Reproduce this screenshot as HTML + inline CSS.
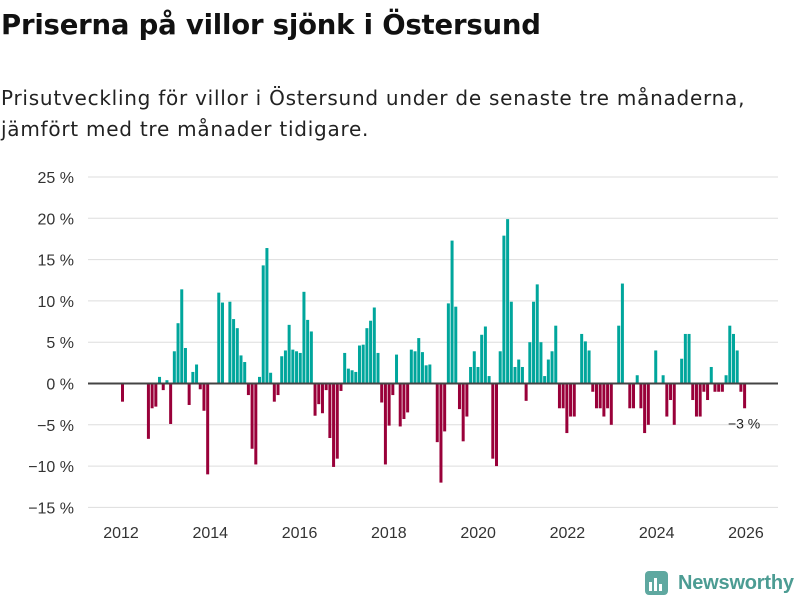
<!DOCTYPE html>
<html><head><meta charset="utf-8">
<style>
body{margin:0;width:800px;height:600px;background:#fff;font-family:"Liberation Sans","DejaVu Sans",sans-serif;overflow:hidden;position:relative}
#title{position:absolute;left:1px;top:9px;font-family:"DejaVu Sans",sans-serif;font-size:27.5px;font-weight:bold;color:#111;letter-spacing:-0.2px;white-space:nowrap}
#sub{position:absolute;left:1px;top:83px;font-family:"DejaVu Sans",sans-serif;font-size:20px;line-height:31px;color:#222;letter-spacing:0.75px;white-space:nowrap}
svg{position:absolute;left:0;top:0}
</style></head><body>
<div id="title">Priserna på villor sjönk i Östersund</div>
<div id="sub">Prisutveckling för villor i Östersund under de senaste tre månaderna,<br>jämfört med tre månader tidigare.</div>
<svg width="800" height="600" id="chart"></svg>
<script>
const values = [-2.2,0,0,0,0,0,0,-6.7,-3.0,-2.8,0.8,-0.8,0.4,-4.9,3.9,7.3,11.4,4.3,-2.6,1.4,2.3,-0.7,-3.3,-11.0,0,0,11.0,9.8,0,9.9,7.8,6.7,3.4,2.6,-1.4,-7.9,-9.8,0.8,14.3,16.4,1.3,-2.2,-1.4,3.3,4.0,7.1,4.1,3.9,3.7,11.1,7.7,6.3,-3.9,-2.5,-3.6,-0.8,-6.6,-10.1,-9.1,-0.9,3.7,1.8,1.6,1.4,4.6,4.7,6.7,7.6,9.2,3.7,-2.3,-9.8,-5.1,-1.4,3.5,-5.2,-4.3,-3.5,4.1,3.9,5.5,3.8,2.2,2.3,0,-7.1,-12.0,-5.8,9.7,17.3,9.3,-3.1,-7.0,-4.0,2.0,3.9,2.0,5.9,6.9,0.9,-9.1,-10.0,3.9,17.9,19.9,9.9,2.0,2.9,2.0,-2.1,5.0,9.9,12.0,5.0,0.9,2.9,3.9,7.0,-3.0,-3.0,-6.0,-4.0,-4.0,0,6.0,5.1,4.0,-1.0,-3.0,-3.0,-4.0,-3.0,-5.0,0,7.0,12.1,0,-3.0,-3.0,1.0,-3.0,-6.0,-5.0,0,4.0,0,1.0,-4.0,-2.0,-5.0,0,3.0,6.0,6.0,-2.0,-4.0,-4.0,-1.0,-2.0,2.0,-1.0,-1.0,-1.0,1.0,7.0,6.0,4.0,-1.0,-3.0];
const startYear = 2012;
const yTicks = [25,20,15,10,5,0,-5,-10,-15];
const xTicks = [2012,2014,2016,2018,2020,2022,2024,2026];
const lastLabel = "−3 %";

const svg = document.getElementById('chart');
const NS = 'http://www.w3.org/2000/svg';
const y = v => 383.5 - v * 8.26;
const xYear = yr => 121 + (yr - 2012) * 44.64;
const xBar = i => 121 + i * 3.703;
function mk(tag, attrs){const e=document.createElementNS(NS,tag);for(const k in attrs)e.setAttribute(k,attrs[k]);svg.appendChild(e);return e;}
yTicks.forEach(t=>{
  if(t!==0){const g=mk('line',{x1:88,x2:778,y1:y(t),y2:y(t),stroke:'#dddddd','stroke-width':1});
  
  }
  const l=mk('text',{x:74,y:y(t)+6,'text-anchor':'end','font-size':16,fill:'#333'});
  l.textContent=(t<0?'−'+(-t):t)+' %';
  
  
});
xTicks.forEach(t=>{
  const l=mk('text',{x:xYear(t),y:538,'text-anchor':'middle','font-size':16,fill:'#333'});
  l.textContent=t;
  
  
});
values.forEach((v,i)=>{
  if(v===0)return;
  const r=mk('rect',{x:xBar(i),width:3.0,y:Math.min(y(v),y(0)),height:Math.abs(y(v)-y(0)),fill:v>0?'#00a69c':'#990039'});
  
  
});
const z=mk('line',{x1:88,x2:778,y1:y(0),y2:y(0),stroke:'#444','stroke-width':2});


const lastI=values.length-1;
const a=mk('text',{x:xBar(lastI)+1,y:y(values[lastI])+20,'text-anchor':'middle','font-size':14,fill:'#222'});
a.textContent=lastLabel;


</script>
<svg width="800" height="600" style="pointer-events:none">
<rect x="645" y="571" width="23" height="24" rx="4" fill="#5fa8a0"/>
<rect x="649" y="582" width="3" height="9" fill="#fff"/><rect x="654" y="578" width="3" height="13" fill="#fff"/><rect x="659" y="584" width="3" height="7" fill="#fff"/>
<text x="678" y="589" font-size="20" font-weight="bold" fill="#4c9c93" font-family="Liberation Sans,sans-serif" textLength="116">Newsworthy</text>
</svg>
</body></html>
